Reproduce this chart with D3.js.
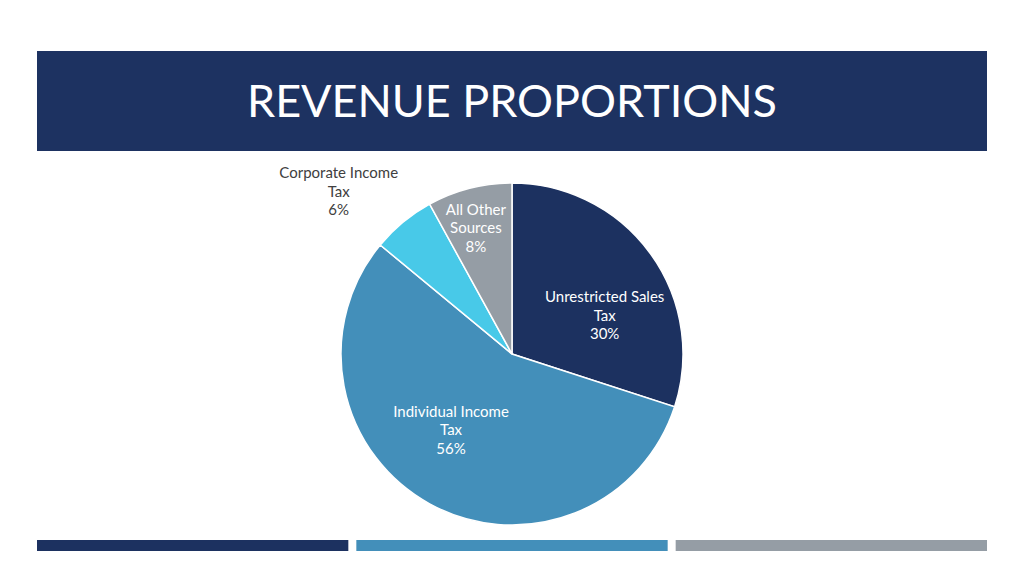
<!DOCTYPE html>
<html><head><meta charset="utf-8">
<script src="https://cdn.jsdelivr.net/npm/d3@7/dist/d3.min.js"></script>
<style>html,body{margin:0;padding:0;background:#fff;}svg{display:block;}</style>
</head><body>
<script>
const title = "REVENUE PROPORTIONS";
const categories = ["Unrestricted Sales Tax", "Individual Income Tax", "Corporate Income Tax", "All Other Sources"];
const labelLines = [["Unrestricted Sales", "Tax"], ["Individual Income", "Tax"], ["Corporate Income", "Tax"], ["All Other", "Sources"]];
const values = [30, 56, 6, 8];
const colors = ["#1c3160", "#438fba", "#48c9e8", "#959da5"];
const footerColors = ["#1c3160", "#438fba", "#959da5"];

const W = 1024, H = 576;
const svg = d3.select("body").append("svg").attr("width", W).attr("height", H);
const font = "Lato, 'Open Sans', sans-serif";

// banner
svg.append("rect").attr("x", 37).attr("y", 51).attr("width", 950).attr("height", 100).attr("fill", "#1d3261");
const t = svg.append("text").attr("x", 247).attr("y", 117).attr("fill", "#fff")
  .attr("font-family", font).attr("font-size", 46).text(title);
const tw = t.node().getComputedTextLength();
t.attr("font-size", 46 * 530 / tw);

// pie
const cx = 512, cy = 354, r = 171;
const pie = d3.pie().sort(null).value(d => d)(values);
const arc = d3.arc().innerRadius(0).outerRadius(r);
const g = svg.append("g").attr("transform", `translate(${cx},${cy})`);
g.selectAll("path").data(pie).join("path")
  .attr("d", arc).attr("fill", (d, i) => colors[i])
  .attr("stroke", "#fff").attr("stroke-width", 1.5);

// label placement (radius factor x, radius factor y), outside flag
const labelPlace = [
  {kx: 0.67, ky: 0.38, inside: true},
  {kx: 0.74, ky: 0.51, inside: true},
  {kx: 1.59, ky: 1.23, inside: false},
  {kx: 0.85, ky: 0.76, inside: true}
];
pie.forEach((d, i) => {
  const a = (d.startAngle + d.endAngle) / 2;
  const p = labelPlace[i];
  const x = Math.sin(a) * r * p.kx;
  const y = -Math.cos(a) * r * p.ky;
  const lines = labelLines[i].concat([Math.round(values[i]) + "%"]);
  const txt = g.append("text").attr("text-anchor", "middle")
    .attr("font-family", font).attr("font-size", 15)
    .attr("fill", p.inside ? "#ffffff" : "#404040");
  lines.forEach((l, j) => {
    txt.append("tspan").attr("x", x).attr("y", y + (j - 1) * 18.5 + 5).text(l);
  });
});

// footer bars
const fx = d3.scaleBand().domain(d3.range(3)).range([37, 995]).paddingInner(0);
footerColors.forEach((c, i) => {
  svg.append("rect").attr("x", fx(i)).attr("y", 540).attr("width", fx.bandwidth() - 8).attr("height", 11).attr("fill", c);
});
</script>
</body></html>
